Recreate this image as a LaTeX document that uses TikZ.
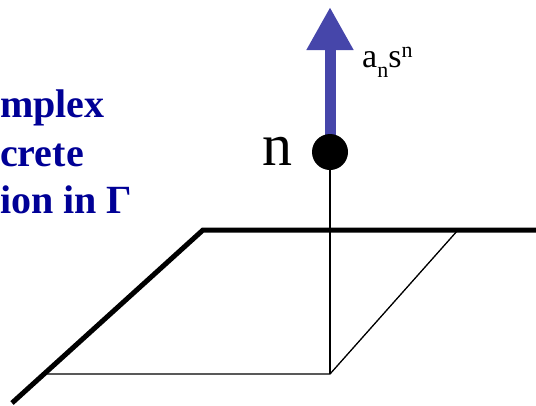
\documentclass[tikz,border=0pt]{standalone}
\usepackage{fontspec}
\setmainfont{Liberation Serif}
\usetikzlibrary{arrows.meta}
\definecolor{txtblue}{RGB}{0,0,150}
\definecolor{arrblue}{RGB}{70,70,170}
\newcommand{\smalln}[1]{{\fontsize{22}{22}\selectfont\raisebox{#1}{n}}}
\begin{document}
\begin{tikzpicture}[x=1pt,y=-1pt,
  thickax/.style={line width=5pt,line cap=butt,line join=miter},
  thinln/.style={line width=1.3pt},
  bluetxt/.style={text=txtblue,font=\fontsize{40}{48}\selectfont\bfseries,inner sep=0pt,anchor=base west},
  dotnode/.style={circle,fill=black,minimum size=36pt,inner sep=0pt}]
\useasboundingbox (0,0) rectangle (536,405);
% coordinates
\coordinate (axA) at (12,403);
\coordinate (axB) at (203,230);
\coordinate (axC) at (540,230);
\coordinate (base) at (330,374);
\coordinate (bl) at (46,374);
\coordinate (tr) at (458,230);
\coordinate (tip) at (330,7);
\coordinate (astart) at (330,145);
% thick axes
\draw[thickax] (axA) -- (axB) -- (axC);
% thin lines
\draw[thinln] (bl) -- (base) -- (tr);
% arrow
\draw[arrblue,line width=11pt,-{Triangle[length=43pt,width=44pt]}] (astart) -- (tip);
% dot
\node[dotnode] (pt) at (330,152) {};
\draw[thinln] (pt.center) -- (base);
% labels
\node[font=\fontsize{60}{62}\selectfont,inner sep=0pt,anchor=base east] (nlab) at (293,165) {n};
\node[font=\fontsize{34}{40}\selectfont,inner sep=0pt,anchor=base west] (alab) at (362,67) {a\smalln{-10pt}s\smalln{10pt}};
% blue text
\node[bluetxt] (t1) at (0,117) {mplex};
\node[bluetxt] (t2) at (0,166) {crete};
\node[bluetxt] (t3) at (0,213) {ion in Γ};
\end{tikzpicture}
\end{document}
